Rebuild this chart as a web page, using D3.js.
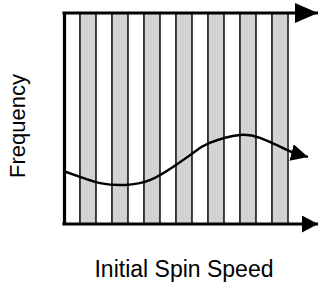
<!DOCTYPE html>
<html>
<head>
<meta charset="utf-8">
<script src="https://d3js.org/d3.v7.min.js"></script>
<style>
  body { margin: 0; background: #fff; }
  text { font-family: "Liberation Sans", Arial, Helvetica, sans-serif; fill: #000; }
</style>
</head>
<body>
<script>

// Speed bins (alternating shading), in speed units.
var bins = [0, 1, 2, 3, 4, 5, 6, 7, 8, 9, 10, 11, 12, 13];

// Distribution curve.
var curveSpeed = [0, 1, 2.25, 3.8, 5.4, 6.9, 8.05, 9.1, 11, 12.25, 13.3, 14.25, 15.25];
var curveFreq  = [2.5, 2.23, 1.94, 1.85, 2.09, 2.75, 3.36, 3.84, 4.22, 4.08, 3.74, 3.41, 3.18];

var xLabel = 'Initial Spin Speed';
var yLabel = 'Frequency';


var w = 319, h = 283;
var margin = { top: 13, left: 64, bottom: 59 };

var svg = d3.select('body').append('svg')
  .attr('width', w)
  .attr('height', h);

var x = d3.scaleLinear().domain([0, 14]).range([margin.left, margin.left + 224]);
var y = d3.scaleLinear().domain([0, 10]).range([h - margin.bottom, margin.top]);

var xEnd = x.invert(318);

// Arrow heads.
var defs = svg.append('defs');

function arrow(id, len, half) {
  defs.append('marker')
    .attr('id', id)
    .attr('markerUnits', 'userSpaceOnUse')
    .attr('viewBox', [-len, -half, len, half * 2].join(' '))
    .attr('refX', 0).attr('refY', 0)
    .attr('markerWidth', len)
    .attr('markerHeight', half * 2)
    .attr('orient', 'auto')
    .append('path')
    .attr('d', 'M' + (-len) + ',' + (-half) + 'L0,0L' + (-len) + ',' + half + 'Z')
    .attr('fill', '#000');
}
arrow('head-top', 23, 10);
arrow('head-bot', 16, 8.5);
arrow('head-curve', 17, 8.5);

// Shaded bins.
svg.append('g').selectAll('rect')
  .data(bins)
  .join('rect')
  .attr('x', function(d) { return x(d); })
  .attr('y', y(10))
  .attr('width', function(d) { return x(d + 1) - x(d); })
  .attr('height', y(0) - y(10))
  .attr('fill', function(d) { return d % 2 ? '#d3d3d3' : '#fff'; })
  .attr('stroke', '#333')
  .attr('stroke-width', 1.8);

// Left axis.
svg.append('g')
  .attr('transform', 'translate(' + x(0) + ',0)')
  .call(d3.axisLeft(y).tickValues([]).tickSizeOuter(0))
  .select('.domain')
  .attr('stroke', '#000')
  .attr('stroke-width', 3.2);

// Top arrow.
svg.append('line')
  .attr('x1', x(0) - 1.6).attr('x2', x(xEnd))
  .attr('y1', y(10)).attr('y2', y(10))
  .attr('stroke', '#000')
  .attr('stroke-width', 3.2)
  .attr('marker-end', 'url(#head-top)');

// Bottom arrow.
svg.append('line')
  .attr('x1', x(0) - 1.6).attr('x2', x(xEnd))
  .attr('y1', y(0)).attr('y2', y(0))
  .attr('stroke', '#000')
  .attr('stroke-width', 3.2)
  .attr('marker-end', 'url(#head-bot)');

// Distribution curve.
var line = d3.line()
  .x(function(d, i) { return x(curveSpeed[i]); })
  .y(function(d) { return y(d); })
  .curve(d3.curveNatural);

svg.append('path')
  .datum(curveFreq)
  .attr('d', line)
  .attr('fill', 'none')
  .attr('stroke', '#000')
  .attr('stroke-width', 2.4)
  .attr('marker-end', 'url(#head-curve)');

// Labels.
svg.append('text')
  .attr('x', 184)
  .attr('y', 277)
  .attr('text-anchor', 'middle')
  .attr('font-size', 23)
  .text(xLabel);

svg.append('text')
  .attr('transform', 'translate(25,126) rotate(-90)')
  .attr('text-anchor', 'middle')
  .attr('font-size', 22)
  .text(yLabel);

</script>
</body>
</html>
